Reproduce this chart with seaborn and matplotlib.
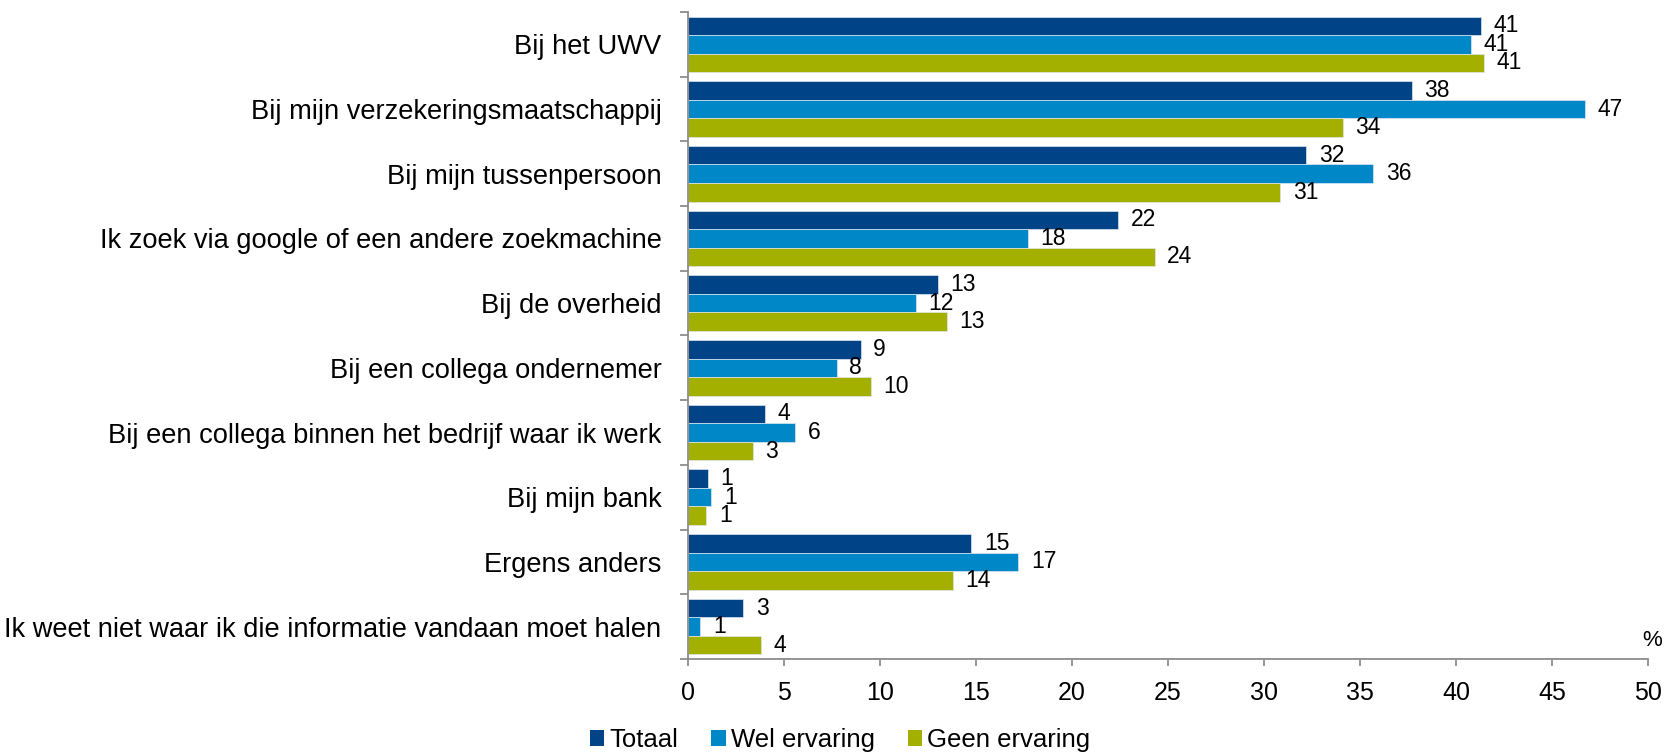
import pandas as pd
import seaborn as sns
import matplotlib.pyplot as plt
from matplotlib.patches import Patch

categories = ['Bij het UWV', 'Bij mijn verzekeringsmaatschappij', 'Bij mijn tussenpersoon',
              'Ik zoek via google of een andere zoekmachine', 'Bij de overheid',
              'Bij een collega ondernemer', 'Bij een collega binnen het bedrijf waar ik werk',
              'Bij mijn bank', 'Ergens anders', 'Ik weet niet waar ik die informatie vandaan moet halen']
totaal = [41.3, 37.7, 32.2, 22.4, 13.0, 9.0, 4.0, 1.04, 14.76, 2.88]
wel_ervaring = [40.8, 46.7, 35.7, 17.7, 11.86, 7.74, 5.59, 1.22, 17.21, 0.64]
geen_ervaring = [41.46, 34.1, 30.85, 24.3, 13.49, 9.52, 3.37, 0.96, 13.79, 3.79]
groups = ['Totaal', 'Wel ervaring', 'Geen ervaring']
colors = ['#004387', '#0087C8', '#A3B000']
x_ticks = [0, 5, 10, 15, 20, 25, 30, 35, 40, 45, 50]

df = pd.DataFrame({
    'category': categories * 3,
    'group': [g for g in groups for _ in categories],
    'value': totaal + wel_ervaring + geen_ervaring,
})

sns.set_style('white')
plt.rcParams['font.family'] = ['Liberation Sans', 'DejaVu Sans']
plt.rcParams['text.color'] = 'black'

fig = plt.figure(figsize=(16.67, 7.55), dpi=100)
ax = fig.add_axes([0.4127, 0.1272, 0.9886 - 0.4127, 0.9841 - 0.1272])

sns.barplot(data=df, y='category', x='value', hue='group', order=categories,
            hue_order=groups, palette=colors, saturation=1, width=0.86, orient='h',
            edgecolor='#dde6ee', linewidth=0.5, legend=False, ax=ax)

for cont in ax.containers:
    vals = [b.get_width() for b in cont]
    ax.bar_label(cont, labels=[f'{round(v)}' for v in vals], padding=9,
                 fontsize=16.5, color='black')

ax.set_xlim(0, 50)
ax.set_ylim(len(categories) - 0.5, -0.5)
ax.set_xticks(x_ticks)
ax.set_xlabel('')
ax.set_ylabel('')

for s in ['top', 'right']:
    ax.spines[s].set_visible(False)
for s in ['left', 'bottom']:
    ax.spines[s].set_color('#8c8c8c')
    ax.spines[s].set_linewidth(1.3)

ax.tick_params(axis='x', which='major', length=5, width=1.3, color='#8c8c8c',
               labelsize=18, labelcolor='black', pad=11, direction='out', bottom=True)
ax.tick_params(axis='y', which='major', length=0, labelsize=19.6, labelcolor='black', pad=19)
ax.set_yticks([i - 0.5 for i in range(len(categories) + 1)], minor=True)
ax.tick_params(axis='y', which='minor', length=6, width=1.3, color='#8c8c8c',
               direction='out', left=True)

ax.text(1.004, 0.028, '%', transform=ax.transAxes, fontsize=16,
        ha='center', va='center', color='black')

handles = [Patch(facecolor=c, edgecolor='none') for c in colors]
fig.legend(handles, groups, loc='center', bbox_to_anchor=(0.504, 0.02), ncol=3,
           frameon=False, fontsize=18.5, handlelength=0.55, handleheight=0.55,
           handletextpad=0.2, columnspacing=1.3, labelcolor='black')

fig.savefig('out.png', dpi=100)
